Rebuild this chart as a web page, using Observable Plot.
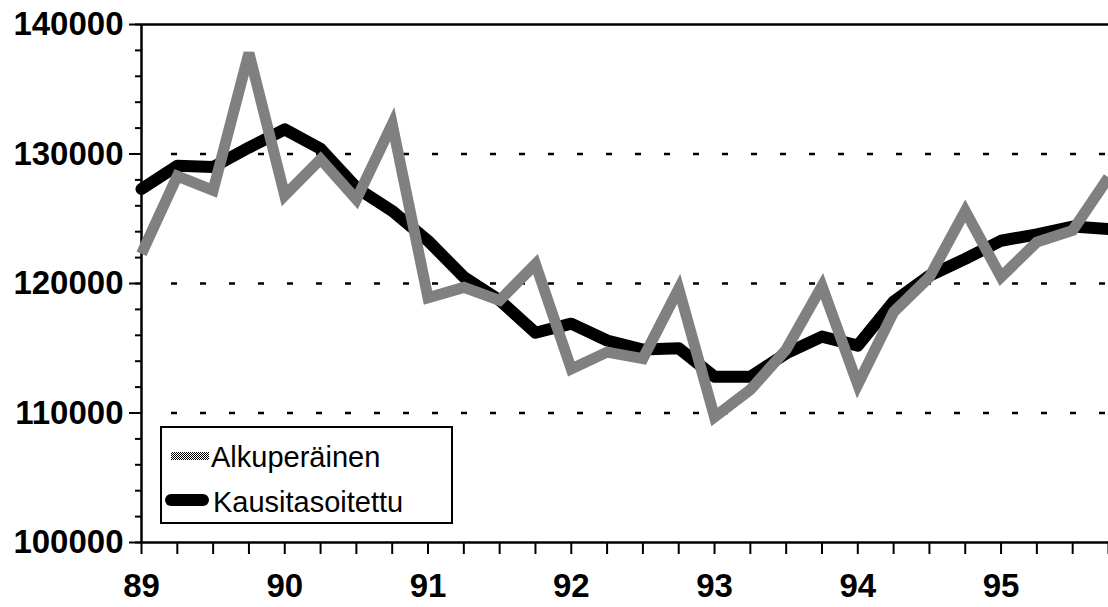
<!DOCTYPE html>
<html>
<head>
<meta charset="utf-8">
<script src="https://cdn.jsdelivr.net/npm/d3@7"></script>
<script src="https://cdn.jsdelivr.net/npm/@observablehq/plot@0.6"></script>
<style>
  html, body { margin: 0; padding: 0; background: #fff; }
  #chart svg { display: block; }
</style>
</head>
<body>
<div id="chart"></div>
<script>
// Quarterly time axis (year + quarter fraction)
const quarters = [
  89.00, 89.25, 89.50, 89.75,
  90.00, 90.25, 90.50, 90.75,
  91.00, 91.25, 91.50, 91.75,
  92.00, 92.25, 92.50, 92.75,
  93.00, 93.25, 93.50, 93.75,
  94.00, 94.25, 94.50, 94.75,
  95.00, 95.25, 95.50, 95.75
];
// Alkuperäinen (original series)
const alkuperainen = [
  122300, 128300, 127200, 137800,
  126800, 129600, 126500, 132300,
  118900, 119700, 118700, 121500,
  113400, 114700, 114200, 119600,
  109700, 111800, 114900, 119800,
  112200, 117800, 120500, 125600,
  120500, 123200, 124100, 128200
];
// Kausitasoitettu (seasonally adjusted series)
const kausitasoitettu = [
  127300, 129100, 129000, 130500,
  131900, 130400, 127400, 125600,
  123300, 120500, 118700, 116200,
  116900, 115600, 114900, 115000,
  112800, 112800, 114600, 115900,
  115200, 118600, 120600, 121900,
  123300, 123800, 124400, 124200
];
const seriesNames = ["Alkuperäinen", "Kausitasoitettu"];
const yearTicks = [89, 90, 91, 92, 93, 94, 95];
const yearLabels = ["89", "90", "91", "92", "93", "94", "95"];
const yTicks = [100000, 110000, 120000, 130000, 140000];
const yLabels = ["100000", "110000", "120000", "130000", "140000"];
const yMinorTicks = d3.range(100000, 140001, 2000);
const gridValues = [110000, 120000, 130000];

const origData = quarters.map((t, i) => ({t, v: alkuperainen[i]}));
const adjData = quarters.map((t, i) => ({t, v: kausitasoitettu[i]}));
const yearLabelMap = new Map(yearTicks.map((d, i) => [d, yearLabels[i]]));
const yLabelMap = new Map(yTicks.map((d, i) => [d, yLabels[i]]));

const plot = Plot.plot({
  width: 1108,
  height: 607,
  marginLeft: 141,
  marginRight: 0,
  marginTop: 24,
  marginBottom: 65,
  style: {fontFamily: "'Liberation Sans', Arial, sans-serif", fontSize: "33px", fontWeight: "bold", color: "#000", background: "#fff"},
  x: {domain: [89, 95.75], label: null},
  y: {domain: [100000, 140000], label: null},
  marks: [
    Plot.ruleY(gridValues, {stroke: "#000", strokeWidth: 2.5, strokeDasharray: "6,23", insetLeft: 30}),
    // minor y ticks
    Plot.axisY({ticks: yMinorTicks, tickSize: 6, text: null, strokeWidth: 2, label: null}),
    // major y ticks with labels
    Plot.axisY({ticks: yTicks, tickSize: 12, tickPadding: 6, tickFormat: d => yLabelMap.get(d), strokeWidth: 2, label: null}),
    // quarter ticks
    Plot.axisX({ticks: quarters, tickSize: 12, text: null, strokeWidth: 2, label: null}),
    // year labels
    Plot.axisX({ticks: yearTicks, tickSize: 0, tickPadding: 31, tickFormat: d => yearLabelMap.get(d), label: null}),
    Plot.ruleX([89], {stroke: "#000", strokeWidth: 2.5}),
    Plot.ruleY([100000], {stroke: "#000", strokeWidth: 2.5}),
    Plot.ruleY([140000], {stroke: "#000", strokeWidth: 2.5}),
    Plot.line(adjData, {x: "t", y: "v", stroke: "#000", strokeWidth: 12, strokeLinejoin: "round", strokeLinecap: "round"}),
    Plot.line(origData, {x: "t", y: "v", stroke: "url(#dither)", strokeWidth: 11, strokeLinejoin: "miter", strokeMiterlimit: 4, strokeLinecap: "butt"})
  ]
});

const svg = d3.select(plot);
const defs = svg.insert("defs", ":first-child");
const pat = defs.append("pattern")
  .attr("id", "dither").attr("patternUnits", "userSpaceOnUse")
  .attr("width", 2).attr("height", 2);
pat.append("rect").attr("width", 2).attr("height", 2).attr("fill", "#fff");
pat.append("rect").attr("x", 0).attr("y", 0).attr("width", 1).attr("height", 1).attr("fill", "#000");
pat.append("rect").attr("x", 1).attr("y", 1).attr("width", 1).attr("height", 1).attr("fill", "#000");

// Legend (drawn inside the plot frame, as in the reference)
const lg = svg.append("g")
  .attr("font-family", "'Liberation Sans', Arial, sans-serif")
  .attr("font-weight", "normal")
  .attr("text-anchor", "start")
  .style("text-anchor", "start");
lg.append("rect").attr("x", 161).attr("y", 427).attr("width", 291).attr("height", 96)
  .attr("fill", "#fff").attr("stroke", "#000").attr("stroke-width", 2);
lg.append("line").attr("x1", 171).attr("x2", 209).attr("y1", 456).attr("y2", 456)
  .attr("stroke", "url(#dither)").attr("stroke-width", 8);
lg.append("text").attr("x", 211).attr("y", 467).attr("font-size", 29).attr("fill", "#000").text(seriesNames[0]);
lg.append("line").attr("x1", 171).attr("x2", 203).attr("y1", 500).attr("y2", 500)
  .attr("stroke", "#000").attr("stroke-width", 12).attr("stroke-linecap", "round");
lg.append("text").attr("x", 213).attr("y", 512).attr("font-size", 29).attr("fill", "#000").text(seriesNames[1]);

document.getElementById("chart").appendChild(plot);
</script>
</body>
</html>
